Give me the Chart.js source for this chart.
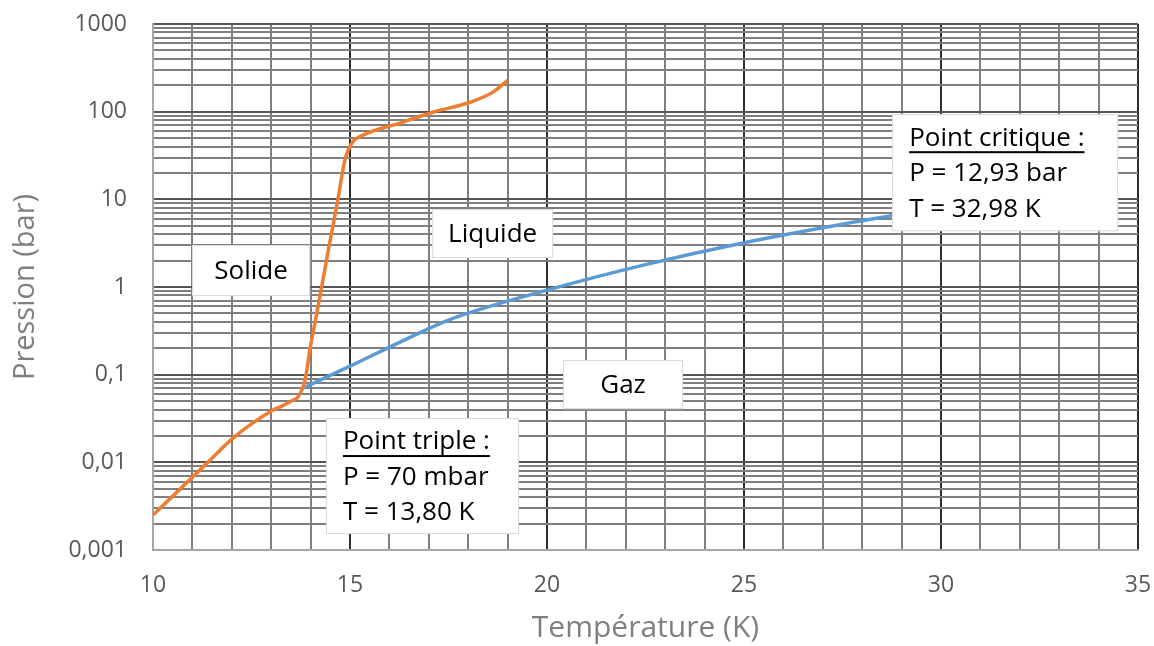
<!DOCTYPE html>
<html>
<head>
<meta charset="utf-8">
<script src="https://cdn.jsdelivr.net/npm/chart.js@4/dist/chart.umd.min.js"></script>
<style>
  body { margin: 0; background: #fff; }
  #wrap { width: 1154px; height: 646px; }
</style>
</head>
<body>
<div id="wrap"><canvas id="myChart"></canvas></div>
<script>
// courbe solide (sublimation + fusion)
var tempSolide = [10, 11.45, 12.03, 13.05, 13.22, 13.55, 13.68, 13.86, 13.98, 14.22, 14.45, 14.69, 14.87, 15.05, 15.33, 16.27, 17.1, 18.05, 18.63, 19.0];
var presSolide = [0.0025, 0.0106, 0.0189, 0.0395, 0.0427, 0.051, 0.0556, 0.087, 0.19, 0.71, 2.63, 9.8, 28, 44, 54, 74, 98.6, 128, 167, 228];

// courbe de vaporisation
var tempVap = [13.8, 15, 16.27, 17.5, 20, 22.5, 25, 27.5, 30, 32.98];
var presVap = [0.07, 0.125, 0.235, 0.42, 0.92, 1.8, 3.2, 5.2, 8.0, 12.93];

var xTicks = [];
for (var i = 10; i <= 35; i++) xTicks.push(i);
var yTicks = [];
for (var e = -3; e < 3; e++) {
    for (var m = 1; m < 10; m++) yTicks.push(m * Math.pow(10, e));
}
yTicks.push(1000);
var yLabels = { "0.001": "0,001", "0.01": "0,01", "0.1": "0,1", "1": "1", "10": "10", "100": "100", "1000": "1000" };

// zones et encadres
var boxes = [
    { t: 12.49, p: 1.54, w: 118, h: 51, center: true, lines: ["Solide"] },
    { t: 18.62, p: 4.06, w: 121, h: 49, center: true, lines: ["Liquide"] },
    { t: 21.93, p: 0.077, w: 120, h: 49, center: true, lines: ["Gaz"] },
    { t: 14.39, p: 0.032, w: 193, h: 116, center: false, lines: ["Point triple :", "P = 70 mbar", "T = 13,80 K"] },
    { t: 28.76, p: 93.6, w: 226, h: 117, center: false, lines: ["Point critique :", "P = 12,93 bar", "T = 32,98 K"] }
];

function toPoints(xs, ys) {
    var pts = [];
    for (var i = 0; i < xs.length; i++) pts.push({ x: xs[i], y: ys[i] });
    return pts;
}

var boxPlugin = {
    id: 'boxes',
    afterDatasetsDraw: function (chart) {
        var ctx = chart.ctx;
        var xs = chart.scales.x, ys = chart.scales.y;
        ctx.save();
        ctx.font = '26px "Open Sans"';
        ctx.textBaseline = 'middle';
        boxes.forEach(function (b) {
            var px = xs.getPixelForValue(b.t);
            var py = ys.getPixelForValue(b.p);
            var left = b.center ? px - b.w / 2 : px;
            var top = b.center ? py - b.h / 2 : py;
            ctx.fillStyle = '#ffffff';
            ctx.fillRect(left, top, b.w, b.h);
            ctx.strokeStyle = '#d9d9d9';
            ctx.lineWidth = 1;
            ctx.strokeRect(left + 0.5, top + 0.5, b.w - 1, b.h - 1);
            ctx.fillStyle = '#000000';
            if (b.center) {
                ctx.textAlign = 'center';
                ctx.fillText(b.lines[0], left + b.w / 2, top + b.h / 2 + 1);
            } else {
                ctx.textAlign = 'left';
                b.lines.forEach(function (txt, k) {
                    var ty = top + 24 + k * 35.5;
                    ctx.fillText(txt, left + 17, ty);
                    if (k == 0) {
                        var wdt = ctx.measureText(txt).width;
                        ctx.fillRect(left + 17, ty + 13, wdt, 2);
                    }
                });
            }
        });
        ctx.restore();
    }
};

function drawChart() {
    var ctx = document.getElementById("myChart");

    var dataConfig = {
        datasets: [
            {
                label: 'Solide',
                data: toPoints(tempSolide, presSolide),
                borderColor: '#ED7D31',
                borderWidth: 3.5,
                pointRadius: 0,
                cubicInterpolationMode: 'monotone'
            },
            {
                label: 'Vapeur',
                data: toPoints(tempVap, presVap),
                borderColor: '#5B9BD5',
                borderWidth: 3.5,
                pointRadius: 0,
                cubicInterpolationMode: 'monotone'
            }]
    };

    var options = {
        responsive: false,
        animation: false,
        layout: { padding: { top: 24, right: 16, left: 0, bottom: 0 } },
        plugins: {
            legend: { display: false },
            tooltip: { enabled: false }
        },
        scales: {
            x: {
                type: 'linear',
                min: 10,
                max: 35,
                afterBuildTicks: function (scale) {
                    scale.ticks = xTicks.map(function (v) { return { value: v }; });
                },
                afterFit: function (scale) {
                    scale.height = 96;
                    scale.paddingLeft = 0;
                    scale.paddingRight = 0;
                },
                grid: {
                    drawTicks: false,
                    lineWidth: 2,
                    color: function (c) {
                        if (c.tick && c.tick.value % 5 === 0 && c.tick.value > 10) return '#2e2e2e';
                        return '#7f7f7f';
                    }
                },
                border: { color: '#a6a6a6', width: 2 },
                ticks: {
                    autoSkip: false,
                    maxRotation: 0,
                    padding: 22,
                    color: '#595959',
                    font: { family: 'Open Sans', size: 23 },
                    callback: function (v) { return v % 5 === 0 ? String(v) : ''; }
                },
                title: {
                    display: true,
                    text: 'Température (K)',
                    color: '#7f7f7f',
                    font: { family: 'Open Sans', size: 30 },
                    padding: { top: 0, bottom: 0 }
                }
            },
            y: {
                type: 'logarithmic',
                min: 0.001,
                max: 1000,
                afterBuildTicks: function (scale) {
                    scale.ticks = yTicks.map(function (v) { return { value: v }; });
                },
                afterFit: function (scale) {
                    scale.width = 153;
                    scale.paddingTop = 0;
                    scale.paddingBottom = 0;
                },
                grid: {
                    drawTicks: false,
                    lineWidth: 2,
                    color: function (c) {
                        if (!c.tick) return '#7f7f7f';
                        var l = Math.log10(c.tick.value);
                        return Math.abs(l - Math.round(l)) < 1e-6 ? '#555555' : '#7f7f7f';
                    }
                },
                border: { color: '#a6a6a6', width: 2 },
                ticks: {
                    autoSkip: false,
                    padding: 26,
                    color: '#595959',
                    font: { family: 'Open Sans', size: 23 },
                    callback: function (v) {
                        var l = Math.log10(v);
                        if (Math.abs(l - Math.round(l)) > 1e-6) return '';
                        return yLabels[String(Math.pow(10, Math.round(l)))];
                    }
                },
                title: {
                    display: true,
                    text: 'Pression (bar)',
                    color: '#7f7f7f',
                    font: { family: 'Open Sans', size: 29 },
                    padding: { top: 8, bottom: 0 }
                }
            }
        }
    };

    ctx.width = 1154;
    ctx.height = 646;
    var myChart = new Chart(ctx, {
        type: 'line',
        data: dataConfig,
        options: options,
        plugins: [boxPlugin]
    });
}

drawChart();
</script>
</body>
</html>
